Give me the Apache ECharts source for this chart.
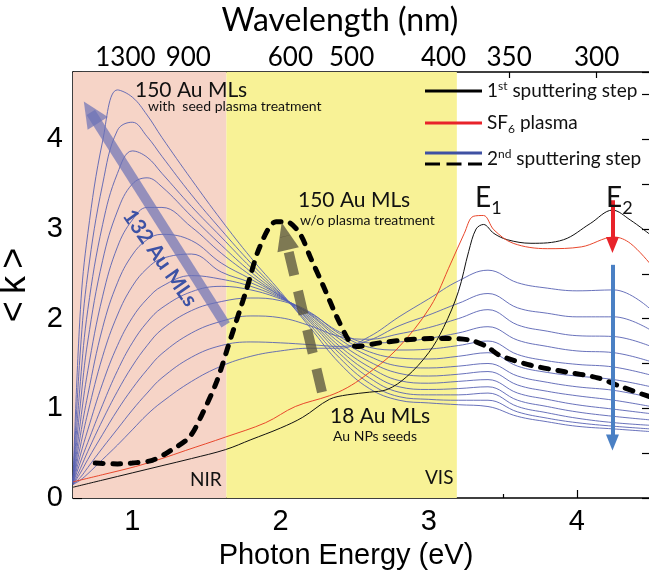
<!DOCTYPE html>
<html>
<head>
<meta charset="utf-8">
<script src="https://cdn.jsdelivr.net/npm/echarts@6/dist/echarts.min.js"></script>
<style>
  html, body { margin: 0; padding: 0; background: #fff; }
  #main { width: 649px; height: 577px; }
</style>
</head>
<body>
<div id="main"></div>
<script>
// photon energy grid (eV) shared by the 2nd sputtering step curves
const energyGrid = [0.6, 0.65, 0.7, 0.8, 0.9, 1.0, 1.1, 1.2, 1.4, 1.6, 1.8, 2.0, 2.2, 2.4, 2.6, 2.8, 3.0, 3.2, 3.4, 3.6, 3.8, 4.0, 4.25, 4.5];

// 2nd sputtering step, from 150 Au MLs (thick) down to 18 Au MLs (thin)
const blue150 = [0.18, 2.1, 2.95, 3.98, 4.55, 4.47, 4.27, 4.02, 3.55, 3.10, 2.68, 2.30, 1.90, 1.50, 1.22, 1.09, 1.06, 1.04, 1.02, 0.91, 0.85, 0.80, 0.77, 0.74];
const blue139 = [0.18, 1.65, 2.5, 3.5, 4.1, 4.19, 4.03, 3.81, 3.38, 2.99, 2.62, 2.28, 1.93, 1.56, 1.28, 1.13, 1.10, 1.09, 1.09, 0.96, 0.89, 0.84, 0.80, 0.77];
const blue128 = [0.18, 1.3, 2.1, 3.05, 3.62, 3.87, 3.80, 3.62, 3.25, 2.91, 2.57, 2.27, 1.96, 1.61, 1.34, 1.18, 1.15, 1.15, 1.17, 1.02, 0.95, 0.89, 0.84, 0.81];
const blue117 = [0.18, 1.05, 1.75, 2.65, 3.2, 3.5, 3.57, 3.47, 3.14, 2.82, 2.52, 2.26, 1.98, 1.65, 1.40, 1.24, 1.21, 1.22, 1.24, 1.09, 1.02, 0.96, 0.91, 0.87];
const blue106 = [0.17, 0.85, 1.42, 2.25, 2.8, 3.1, 3.24, 3.24, 3.02, 2.73, 2.48, 2.25, 2.00, 1.69, 1.46, 1.31, 1.28, 1.30, 1.32, 1.17, 1.10, 1.04, 0.99, 0.94];
const blue95 = [0.17, 0.7, 1.15, 1.9, 2.4, 2.71, 2.88, 2.94, 2.87, 2.62, 2.44, 2.25, 2.02, 1.73, 1.52, 1.39, 1.36, 1.38, 1.41, 1.26, 1.19, 1.14, 1.09, 1.02];
const blue84 = [0.17, 0.58, 0.95, 1.58, 2.04, 2.36, 2.56, 2.67, 2.72, 2.52, 2.40, 2.24, 2.04, 1.77, 1.58, 1.47, 1.45, 1.47, 1.50, 1.36, 1.29, 1.24, 1.20, 1.12];
const blue73 = [0.16, 0.48, 0.76, 1.28, 1.7, 2.01, 2.22, 2.36, 2.48, 2.44, 2.36, 2.23, 2.05, 1.80, 1.63, 1.56, 1.55, 1.58, 1.62, 1.47, 1.40, 1.36, 1.32, 1.24];
const blue62 = [0.16, 0.4, 0.62, 1.04, 1.42, 1.73, 1.96, 2.12, 2.30, 2.36, 2.32, 2.22, 2.07, 1.83, 1.68, 1.65, 1.66, 1.70, 1.75, 1.60, 1.53, 1.49, 1.46, 1.37];
const blue51 = [0.15, 0.33, 0.52, 0.87, 1.19, 1.47, 1.70, 1.88, 2.09, 2.19, 2.23, 2.20, 2.06, 1.85, 1.73, 1.74, 1.78, 1.84, 1.91, 1.76, 1.69, 1.64, 1.62, 1.52];
const blue40 = [0.15, 0.28, 0.43, 0.71, 0.98, 1.22, 1.43, 1.61, 1.84, 1.97, 2.03, 2.01, 1.92, 1.80, 1.77, 1.83, 1.90, 2.00, 2.10, 1.93, 1.86, 1.81, 1.80, 1.69];
const blue29 = [0.15, 0.23, 0.34, 0.56, 0.77, 0.98, 1.17, 1.34, 1.57, 1.70, 1.74, 1.73, 1.71, 1.69, 1.76, 1.92, 2.04, 2.17, 2.28, 2.12, 2.06, 2.02, 2.02, 1.87];
const blue18 = [0.15, 0.2, 0.27, 0.43, 0.59, 0.76, 0.93, 1.07, 1.30, 1.47, 1.58, 1.64, 1.67, 1.67, 1.80, 2.02, 2.22, 2.42, 2.54, 2.40, 2.34, 2.31, 2.32, 2.10];
const blueCurves = [blue150, blue139, blue128, blue117, blue106, blue95, blue84, blue73, blue62, blue51, blue40, blue29, blue18];

// 1st sputtering step  [eV, <k>]
const firstStep = [[0.6,0.12],[0.8,0.2],[1.0,0.28],[1.2,0.36],[1.4,0.44],[1.63,0.54],[1.8,0.65],[2.0,0.78],[2.15,0.9],[2.33,1.1],[2.45,1.15],[2.6,1.18],[2.72,1.21],[2.85,1.35],[3.0,1.62],[3.1,1.9],[3.2,2.3],[3.27,2.75],[3.32,3.0],[3.37,3.05],[3.44,2.95],[3.53,2.88],[3.69,2.84],[3.91,2.88],[4.09,3.06],[4.24,3.21],[4.36,3.1],[4.5,2.93]];
// SF6 plasma
const sf6Plasma = [[0.6,0.18],[0.8,0.26],[1.02,0.35],[1.2,0.44],[1.36,0.53],[1.63,0.68],[1.9,0.84],[2.1,1.02],[2.33,1.14],[2.45,1.23],[2.56,1.35],[2.78,1.65],[3.01,2.13],[3.15,2.62],[3.24,2.95],[3.3,3.14],[3.37,3.15],[3.44,2.99],[3.57,2.84],[3.8,2.78],[4.03,2.8],[4.25,2.91],[4.36,2.84],[4.5,2.6]];
// 150 Au MLs w/o plasma treatment
const noPlasma150 = [[0.75,0.39],[0.9,0.38],[1.0,0.39],[1.135,0.42],[1.25,0.52],[1.386,0.68],[1.47,0.93],[1.57,1.3],[1.66,1.76],[1.77,2.32],[1.86,2.8],[1.97,3.08],[2.04,3.08],[2.13,2.95],[2.2,2.69],[2.29,2.36],[2.38,2.02],[2.47,1.73],[2.51,1.69],[2.67,1.73],[2.9,1.77],[3.12,1.78],[3.28,1.76],[3.39,1.69],[3.48,1.59],[3.69,1.48],[3.91,1.41],[4.14,1.34],[4.3,1.24],[4.49,1.13]];

const energyTicks = [1, 2, 3, 4];
const energyMinorTicks = [1.5, 2.5, 3.5];
const wavelengthTicks = [1300, 900, 600, 500, 400, 350, 300];
const nirRange = [0.6, 1.635];
const visRange = [1.635, 3.19];

const chart = echarts.init(document.getElementById('main'));

const blueColor = '#5862b3';
const arial = 'Liberation Sans';
const calibri = 'Lato';

let series = blueCurves.map(function (c, i) {
    return {
        type: 'line',
        data: energyGrid.map(function (e, j) { return [e, c[j]]; }),
        showSymbol: false,
        symbol: 'none',
        smooth: 0.4,
        lineStyle: { color: blueColor, width: 0.9 },
        z: i === 0 ? 1 : 2,
        silent: true
    };
});
// NIR / VIS bands
series[0].markArea = {
    silent: true,
    data: [
        [{ xAxis: nirRange[0], itemStyle: { color: '#f6d4c7' } }, { xAxis: nirRange[1] }],
        [{ xAxis: visRange[0], itemStyle: { color: '#f8f296' } }, { xAxis: visRange[1] }]
    ]
};
series.push({
    type: 'line', data: firstStep, showSymbol: false, symbol: 'none', smooth: 0.35,
    lineStyle: { color: '#111', width: 1 }, z: 3, silent: true
});
series.push({
    type: 'line', data: sf6Plasma, showSymbol: false, symbol: 'none', smooth: 0.35,
    lineStyle: { color: '#e8472c', width: 1 }, z: 3, silent: true
});
series.push({
    type: 'line', data: noPlasma150, showSymbol: false, symbol: 'none', smooth: 0.3,
    lineStyle: { color: '#000', width: 5, type: [8, 9.5], cap: 'round' }, z: 4, silent: true
});
// arrows
series.push({
    type: 'line', data: [], z: 5, silent: true,
    markLine: {
        silent: true,
        animation: false,
        label: { show: false },
        data: [
            [{ coord: [1.63, 1.93], symbol: 'none', lineStyle: { color: 'rgba(108,114,182,0.7)', width: 10, type: 'solid' } },
             { coord: [0.72, 4.3], symbol: 'triangle', symbolSize: [24, 26] }],
            [{ coord: [2.28, 1.18], symbol: 'none', lineStyle: { color: 'rgba(85,80,60,0.75)', width: 10, type: [24, 16] } },
             { coord: [2.03, 2.92], symbol: 'triangle', symbolSize: [22, 28] }],
            [{ coord: [4.24, 3.32], symbol: 'none', lineStyle: { color: '#e8232a', width: 4, type: 'solid' } },
             { coord: [4.24, 2.82], symbol: 'triangle', symbolSize: [13, 16] }],
            [{ coord: [4.24, 2.6], symbol: 'none', lineStyle: { color: '#4a80c4', width: 4, type: 'solid' } },
             { coord: [4.24, 0.62], symbol: 'triangle', symbolSize: [13, 16] }]
        ]
    }
});

function label(x, y, text, size, rich, extraStyle) {
    return {
        type: 'text', x: x, y: y, z: 100, silent: true,
        style: Object.assign({
            text: text, fontSize: size, fontFamily: calibri, fill: '#111',
            align: 'left', verticalAlign: 'middle', textAlign: 'left', textVerticalAlign: 'middle',
            rich: rich || {}
        }, extraStyle || {})
    };
}
const centred = { align: 'center', textAlign: 'center', fill: '#000' };
const legendRich = {
    sup: { fontSize: 12, fontFamily: calibri, fill: '#111', verticalAlign: 'top', lineHeight: 22 },
    sub: { fontSize: 12, fontFamily: calibri, fill: '#111', verticalAlign: 'bottom', lineHeight: 24 }
};
const peakRich = { s: { fontSize: 18, fontFamily: calibri, fill: '#111', verticalAlign: 'bottom', lineHeight: 38 } };

const graphics = [
    // axis titles
    label(340, 21, 'Wavelength (nm)', 32, null, centred),
    label(346, 556, 'Photon Energy (eV)', 29, null, Object.assign({ fontFamily: arial }, centred)),
    label(135, 90, '150 Au MLs', 21),
    label(148, 106, 'with  seed plasma treatment', 14),
    label(298, 200, '150 Au MLs', 21),
    label(300, 220, 'w/o plasma treatment', 14),
    label(330, 416, '18 Au MLs', 21),
    label(333, 436, 'Au NPs seeds', 14),
    label(190, 480, 'NIR', 19),
    label(425, 478, 'VIS', 19),
    label(475, 198, 'E{s|1}', 28, peakRich),
    label(606, 198, 'E{s|2}', 28, peakRich),
    {
        type: 'text', x: 160, y: 258, z: 100, silent: true, rotation: -0.96,
        style: { text: '132 Au MLs', fontSize: 21, fontWeight: 'bold', fontFamily: calibri, fill: '#3d52a5',
                 align: 'center', verticalAlign: 'middle', textAlign: 'center', textVerticalAlign: 'middle' }
    },
    // legend
    { type: 'line', z: 100, silent: true, shape: { x1: 425, y1: 91, x2: 482, y2: 91 }, style: { stroke: '#000', lineWidth: 3 } },
    { type: 'line', z: 100, silent: true, shape: { x1: 425, y1: 123, x2: 482, y2: 123 }, style: { stroke: '#e8232a', lineWidth: 3 } },
    { type: 'line', z: 100, silent: true, shape: { x1: 425, y1: 153, x2: 482, y2: 153 }, style: { stroke: '#3f51a3', lineWidth: 3 } },
    { type: 'line', z: 100, silent: true, shape: { x1: 425, y1: 164, x2: 482, y2: 164 }, style: { stroke: '#000', lineWidth: 3, lineDash: [15, 6.5] } },
    label(487, 91, '1{sup|st} sputtering step', 19, legendRich),
    label(487, 123, 'SF{sub|6} plasma', 19, legendRich),
    label(487, 159, '2{sup|nd} sputtering step', 19, legendRich)
];

chart.setOption({
    animation: false,
    backgroundColor: '#fff',
    grid: { left: 73, right: -2, top: 72, bottom: 79, outerBoundsMode: 'none' },
    xAxis: [
        {
            type: 'value', position: 'bottom', min: 0.6, max: 4.5,
            axisLine: { show: true, onZero: false, lineStyle: { color: '#000', width: 1.5 } },
            axisTick: { show: true, inside: true, length: 8, customValues: energyTicks, lineStyle: { color: '#000', width: 1.2 } },
            axisLabel: { customValues: energyTicks, fontSize: 29, color: '#000', fontFamily: arial, margin: 9 },
            splitLine: { show: false }
        },
        {
            type: 'value', position: 'bottom', min: 0.6, max: 4.5,
            axisLine: { show: false, onZero: false },
            axisTick: { show: true, inside: true, length: 4, customValues: energyMinorTicks, lineStyle: { color: '#000', width: 1.2 } },
            axisLabel: { show: false },
            splitLine: { show: false }
        },
        {
            type: 'value', position: 'top', min: 0.6, max: 4.5,
            axisLine: { show: true, onZero: false, lineStyle: { color: '#000', width: 1.5 } },
            axisTick: { show: true, inside: true, length: 6, customValues: wavelengthTicks.map(function (w) { return 1240 / w; }), lineStyle: { color: '#000', width: 1.2 } },
            axisLabel: {
                customValues: wavelengthTicks.map(function (w) { return 1240 / w; }),
                formatter: function (v) { return String(Math.round(1240 / v)); },
                fontSize: 26, color: '#000', fontFamily: calibri, margin: 1
            },
            splitLine: { show: false }
        }
    ],
    yAxis: [
        {
            type: 'value', position: 'left', min: 0, max: 4.75, interval: 0.5,
            axisLine: { show: true, onZero: false, lineStyle: { color: '#000', width: 1.5 } },
            axisTick: { show: true, inside: true, length: 9, lineStyle: { color: '#000', width: 1.2 } },
            axisLabel: {
                formatter: function (v) { return Number.isInteger(v) ? String(v) : ''; },
                fontSize: 29, color: '#000', fontFamily: arial, margin: 10
            },
            splitLine: { show: false },
            name: '<\u2009k\u2009>', nameLocation: 'middle', nameGap: 40, nameRotate: 90,
            nameTextStyle: { fontSize: 36, color: '#000', fontFamily: arial }
        },
        {
            type: 'value', position: 'right', min: 0, max: 4.75, interval: 0.5,
            axisLine: { show: true, onZero: false, lineStyle: { color: '#000', width: 1.5 } },
            axisTick: { show: true, inside: true, length: 9, lineStyle: { color: '#000', width: 1.2 } },
            axisLabel: { show: false },
            splitLine: { show: false }
        }
    ],
    series: series,
    graphic: graphics
});
</script>
</body>
</html>
